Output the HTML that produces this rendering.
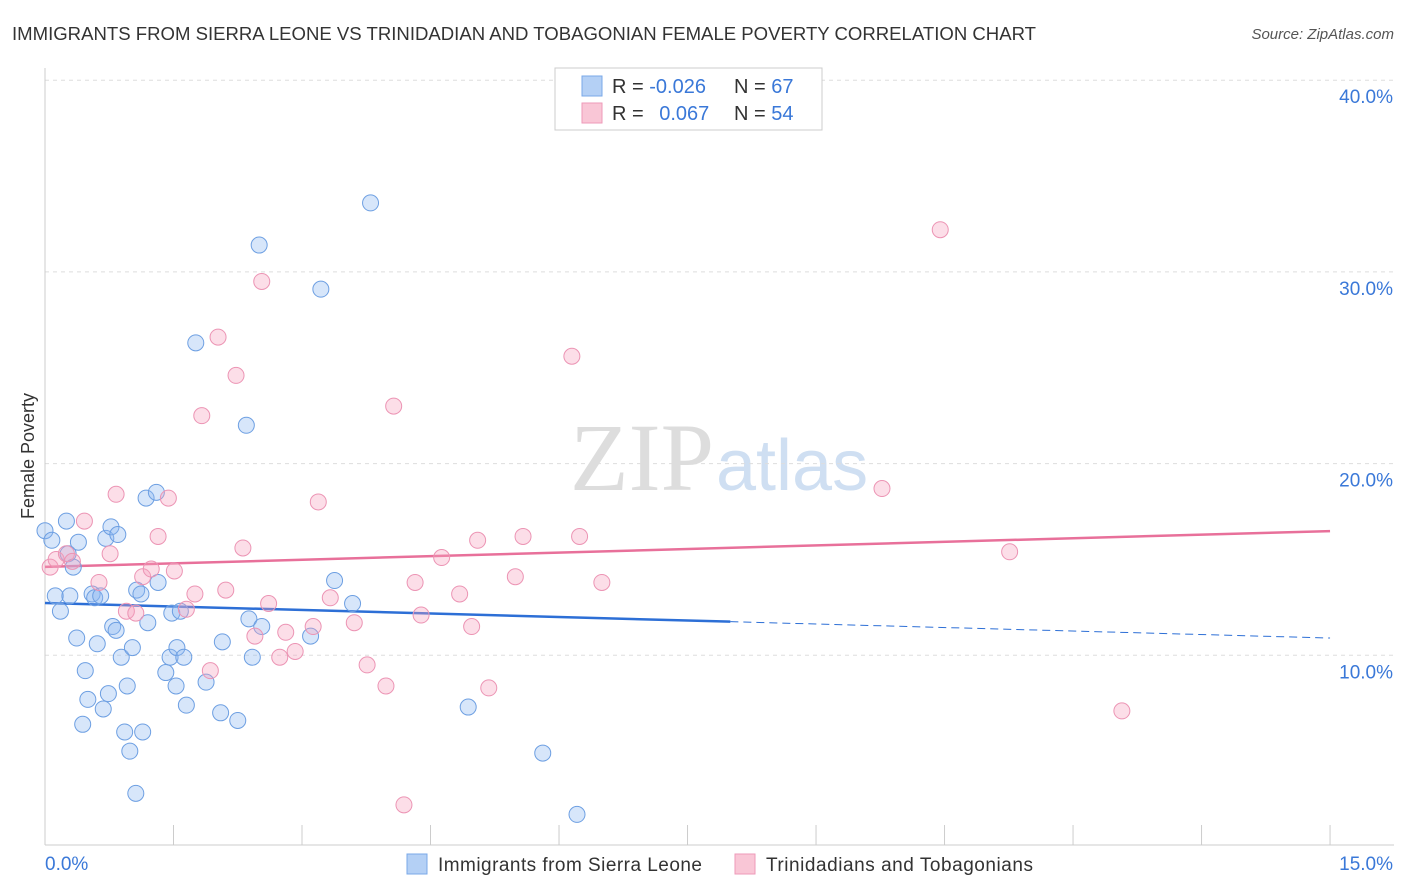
<!DOCTYPE html>
<html><head><meta charset="utf-8">
<style>
body{margin:0;background:#fff;font-family:"Liberation Sans",sans-serif;}
#wrap{position:relative;width:1406px;height:892px;overflow:hidden;}
</style></head>
<body><div id="wrap">
<svg id="svg" width="1406" height="892" xmlns="http://www.w3.org/2000/svg">
<text x="12" y="40" font-size="18" fill="#333" textLength="1024" lengthAdjust="spacingAndGlyphs">IMMIGRANTS FROM SIERRA LEONE VS TRINIDADIAN AND TOBAGONIAN FEMALE POVERTY CORRELATION CHART</text>
<text x="1394" y="39" font-size="15" fill="#555" font-style="italic" text-anchor="end">Source: ZipAtlas.com</text>
<text x="34" y="456" font-size="18" fill="#333" text-anchor="middle" transform="rotate(-90 34 456)">Female Poverty</text>
<text x="714" y="490" font-size="96" fill="#ddd" text-anchor="end" font-family="Liberation Serif,serif">ZIP</text>
<text x="716" y="490" font-size="72" fill="#cfdff2">atlas</text>
<g id="grid"></g><g id="axes"></g><g id="trend"></g><g id="pts"></g>
<g>
<rect x="555" y="68" width="267" height="62" fill="#fff" stroke="#ccc"/>
<rect x="582" y="76" width="20" height="20" fill="#b4d0f5" stroke="#7aa8e8"/>
<rect x="582" y="103" width="20" height="20" fill="#f9c6d6" stroke="#ee9ab8"/>
<text x="612" y="93" font-size="20" fill="#333">R = <tspan fill="#3a78d8">-0.026</tspan></text>
<text x="734" y="93" font-size="20" fill="#333">N = <tspan fill="#3a78d8">67</tspan></text>
<text x="612" y="120" font-size="20" fill="#333">R = <tspan fill="#3a78d8" dx="10">0.067</tspan></text>
<text x="734" y="120" font-size="20" fill="#333">N = <tspan fill="#3a78d8">54</tspan></text>
</g>
<g>
<rect x="407" y="854" width="20" height="20" fill="#b4d0f5" stroke="#7aa8e8"/>
<text x="438" y="871" font-size="19" fill="#333" textLength="264">Immigrants from Sierra Leone</text>
<rect x="735" y="854" width="20" height="20" fill="#f9c6d6" stroke="#ee9ab8"/>
<text x="766" y="871" font-size="19" fill="#333" textLength="267">Trinidadians and Tobagonians</text>
</g>
</svg></div>
<script>
const yTicks=[10,20,30,40];
const yTickLabels=["10.0%","20.0%","30.0%","40.0%"];
const xTicks=[0,1.5,3,4.5,6,7.5,9,10.5,12,13.5,15];
const blueX=[0,0.08,0.12,0.18,0.25,0.27,0.29,0.33,0.37,0.39,0.44,0.47,0.5,0.55,0.58,0.61,0.65,0.68,0.71,0.74,0.77,0.79,0.83,0.85,0.89,0.93,0.96,0.99,1.02,1.06,1.07,1.12,1.14,1.18,1.2,1.3,1.32,1.41,1.46,1.48,1.53,1.54,1.58,1.62,1.65,1.76,1.88,2.05,2.07,2.25,2.35,2.38,2.42,2.5,2.53,3.1,3.22,3.38,3.59,3.8,4.94,5.81,6.21];
const blueY=[16.5,16.0,13.1,12.3,17.0,15.3,13.1,14.6,10.9,15.9,6.4,9.2,7.7,13.2,13.0,10.6,13.1,7.2,16.1,8.0,16.7,11.5,11.3,16.3,9.9,6.0,8.4,5.0,10.4,2.8,13.4,13.2,6.0,18.2,11.7,18.5,13.8,9.1,9.9,12.2,8.4,10.4,12.3,9.9,7.4,26.3,8.6,7.0,10.7,6.6,22.0,11.9,9.9,31.4,11.5,11.0,29.1,13.9,12.7,33.6,7.3,4.9,1.7];
const pinkX=[0.06,0.13,0.25,0.32,0.46,0.63,0.76,0.83,0.95,1.06,1.14,1.24,1.32,1.44,1.51,1.65,1.75,1.83,1.93,2.02,2.11,2.23,2.31,2.45,2.53,2.61,2.74,2.81,2.92,3.13,3.19,3.33,3.61,3.76,3.98,4.07,4.19,4.32,4.39,4.63,4.84,4.98,5.05,5.18,5.49,5.58,6.15,6.24,6.5,9.77,10.45,11.26,12.57];
const pinkY=[14.6,15.0,15.3,14.9,17.0,13.8,15.3,18.4,12.3,12.2,14.1,14.5,16.2,18.2,14.4,12.4,13.2,22.5,9.2,26.6,13.4,24.6,15.6,11.0,29.5,12.7,9.9,11.2,10.2,11.5,18.0,13.0,11.7,9.5,8.4,23.0,2.2,13.8,12.1,15.1,13.2,11.5,16.0,8.3,14.1,16.2,25.6,16.2,13.8,18.7,32.2,15.4,7.1];
const blueTrend=[12.73,10.9]; const blueSolidEnd=8.0;
const pinkTrend=[14.61,16.48];
const X=v=>45+v*85.67, Y=v=>847-v*19.17;
const NS="http://www.w3.org/2000/svg";
function mk(t,a,p){const e=document.createElementNS(NS,t);for(const k in a)e.setAttribute(k,a[k]);document.getElementById(p).appendChild(e);return e;}
yTicks.forEach((t,i)=>{
const g=mk('line',{x1:45,x2:1394,y1:Y(t),y2:Y(t),stroke:'#ddd','stroke-dasharray':'4,4'},'grid');


const l=mk('text',{x:1393,y:Y(t)+23,'font-size':19,fill:'#3a78d8','text-anchor':'end'},'grid');l.textContent=yTickLabels[i];


});
mk('line',{x1:45,x2:45,y1:68,y2:845,stroke:'#ccc'},'axes');
mk('line',{x1:45,x2:1394,y1:845,y2:845,stroke:'#ccc'},'axes');
xTicks.forEach(t=>{const e=mk('line',{x1:X(t),x2:X(t),y1:825,y2:845,stroke:'#ccc'},'axes');

});
let a=mk('text',{x:45,y:870,'font-size':19,fill:'#3a78d8'},'axes');a.textContent='0.0%';


a=mk('text',{x:1393,y:870,'font-size':19,fill:'#3a78d8','text-anchor':'end'},'axes');a.textContent='15.0%';


const bAt=x=>blueTrend[0]+(blueTrend[1]-blueTrend[0])*x/15;
let t=mk('line',{x1:X(0),y1:Y(bAt(0)),x2:X(blueSolidEnd),y2:Y(bAt(blueSolidEnd)),stroke:'#2d6fd6','stroke-width':2.5},'trend');


t=mk('line',{x1:X(blueSolidEnd),y1:Y(bAt(blueSolidEnd)),x2:X(15),y2:Y(bAt(15)),stroke:'#2d6fd6','stroke-width':1,'stroke-dasharray':'8,5'},'trend');


t=mk('line',{x1:X(0),y1:Y(pinkTrend[0]),x2:X(15),y2:Y(pinkTrend[1]),stroke:'#e8709a','stroke-width':2.5},'trend');


blueX.forEach((x,i)=>{const c=mk('circle',{cx:X(x),cy:Y(blueY[i]),r:8,fill:'rgba(140,184,240,0.35)',stroke:'#6d9fe2','stroke-width':1},'pts');

});
pinkX.forEach((x,i)=>{const c=mk('circle',{cx:X(x),cy:Y(pinkY[i]),r:8,fill:'rgba(245,160,190,0.35)',stroke:'#ec94b4','stroke-width':1},'pts');

});
</script>
</body></html>
